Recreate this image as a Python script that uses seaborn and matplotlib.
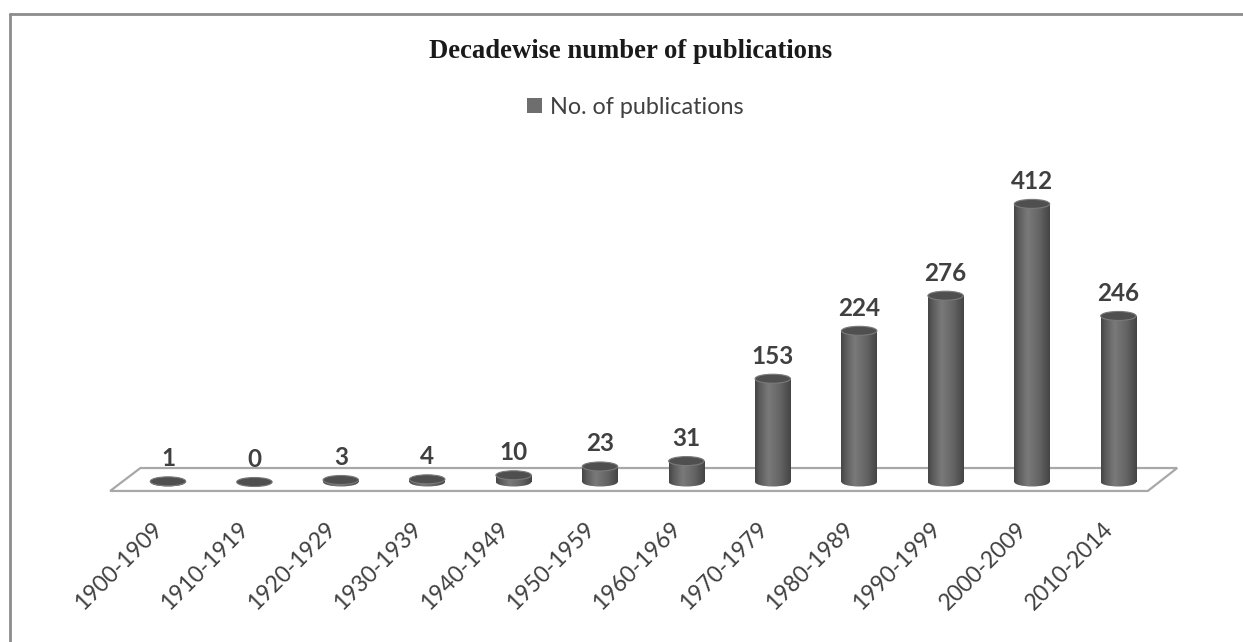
import numpy as np
import pandas as pd
import matplotlib
matplotlib.use("Agg")
import matplotlib.pyplot as plt
import seaborn as sns
from matplotlib.patches import Ellipse, Polygon, Patch
from matplotlib.colors import LinearSegmentedColormap
from matplotlib.lines import Line2D

# ---- data -------------------------------------------------------------
decades = ["1900-1909", "1910-1919", "1920-1929", "1930-1939", "1940-1949",
           "1950-1959", "1960-1969", "1970-1979", "1980-1989", "1990-1999",
           "2000-2009", "2010-2014"]
publications = [1, 0, 3, 4, 10, 23, 31, 153, 224, 276, 412, 246]
chart_title = "Decadewise number of publications"
series_name = "No. of publications"

# ---- style ------------------------------------------------------------
sns.set_theme(style="white")
plt.rcParams["font.family"] = ["Lato", "DejaVu Sans"]
text_color = "#404040"

W, H = 1243, 642
fig = plt.figure(figsize=(W / 100, H / 100), dpi=100)
ax = fig.add_axes([0, 0, 1, 1])

df = pd.DataFrame({"decade": decades, "count": publications})
bar_w = 0.41
sns.barplot(data=df, x="decade", y="count", order=decades, color="#666666",
            width=bar_w, ax=ax, zorder=3, linewidth=0)

# pixel layout of the plotting area
x0_px, step_px = 168, 86.4
base_px, unit_px = 482, 0.675
xlim = (-x0_px / step_px, (W - x0_px) / step_px)
ylim = (-(H - base_px) / unit_px, base_px / unit_px)
ell_h = 9 / unit_px  # ellipse height of the cylinder caps

cyl_cmap = LinearSegmentedColormap.from_list(
    "cyl", [(0.0, "#454545"), (0.12, "#5a5a5a"), (0.38, "#7a7a7a"),
            (0.72, "#636363"), (1.0, "#444444")])
grad = np.linspace(0, 1, 256).reshape(1, -1)

n = len(decades)
# floor of the 3D plot
floor = Polygon([(-0.5 + 0.18, 20.7), (n - 0.5 + 0.18, 20.7),
                 (n - 0.5 - 0.16, -13.3), (-0.5 - 0.17, -13.3)],
                closed=True, fc="white", ec="#a8a8a8", lw=1.6, zorder=1)
ax.add_patch(floor)

bars = list(ax.patches)[:n]
for i, (patch, v) in enumerate(zip(bars, publications)):
    x = patch.get_x()
    w = patch.get_width()
    cx = x + w / 2
    patch.set_edgecolor("none")
    # cylinder body with horizontal shading
    im = ax.imshow(grad, cmap=cyl_cmap, extent=[x, x + w, 0, max(v, 0.001)],
                   aspect="auto", zorder=3, interpolation="bicubic")
    im.set_clip_path(patch)
    # rounded bottom
    bottom = Ellipse((cx, 0), w, ell_h, transform=ax.transData,
                     fill=False, lw=0)
    ax.add_patch(bottom)
    im2 = ax.imshow(grad, cmap=cyl_cmap,
                    extent=[x, x + w, -ell_h / 2, ell_h / 2],
                    aspect="auto", zorder=3, interpolation="bicubic")
    im2.set_clip_path(bottom)
    # top cap
    ax.add_patch(Ellipse((cx, v), w, ell_h, fc="#4f4f4f", ec="#7a7a7a",
                         lw=0.8, zorder=5))
    # value label
    ax.annotate(str(v), (cx, v), xytext=(0, 11), textcoords="offset pixels",
                ha="center", va="bottom", fontsize=17.5, fontweight="bold",
                color=text_color, zorder=6)
    # category label
    ax.text(i - 0.1, -65, decades[i], rotation=45, rotation_mode="anchor",
            ha="right", va="center", fontsize=16.5, color=text_color)

ax.set_xlim(*xlim)
ax.set_ylim(*ylim)
ax.axis("off")

# title and legend
fig.text(631 / W, 1 - 52 / H, chart_title, ha="center", va="center",
         family="Liberation Serif", weight="bold", fontsize=19.2,
         color="#1a1a1a")
leg = ax.legend(handles=[Patch(fc="#6e6e6e", ec="none")], labels=[series_name],
                loc="center", bbox_to_anchor=(635 / W, 1 - 107 / H),
                bbox_transform=fig.transFigure, frameon=False, fontsize=16.8,
                handlelength=0.65, handleheight=0.65, handletextpad=0.35)
for t in leg.get_texts():
    t.set_color(text_color)

# chart border
fig.add_artist(Line2D([10 / W, 10 / W], [0, 1 - 14 / H],
                      transform=fig.transFigure, color="#8c8c8c", lw=2))
fig.add_artist(Line2D([10 / W, 1], [1 - 14 / H, 1 - 14 / H],
                      transform=fig.transFigure, color="#8c8c8c", lw=2))

fig.savefig("out.png", dpi=100, facecolor="white")
